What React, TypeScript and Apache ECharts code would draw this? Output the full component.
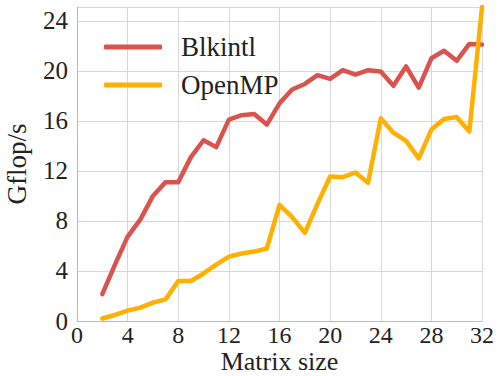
import React, { useEffect, useRef } from "react";
import * as echarts from "echarts";

const sizes = [2, 3, 4, 5, 6, 7, 8, 9, 10, 11, 12, 13, 14, 15, 16, 17, 18, 19, 20, 21, 22, 23, 24, 25, 26, 27, 28, 29, 30, 31, 32];
const blkintl = [2.15, 4.5, 6.75, 8.1, 10.0, 11.1, 11.1, 13.1, 14.45, 13.9, 16.1, 16.45, 16.55, 15.7, 17.4, 18.5, 18.95, 19.65, 19.35, 20.05, 19.7, 20.05, 19.95, 18.8, 20.35, 18.65, 21.0, 21.6, 20.8, 22.15, 22.1];
const openmp = [0.2, 0.48, 0.83, 1.07, 1.47, 1.73, 3.2, 3.2, 3.8, 4.5, 5.15, 5.4, 5.55, 5.8, 9.28, 8.3, 7.05, 9.36, 11.55, 11.5, 11.87, 11.05, 16.2, 15.05, 14.4, 13.0, 15.3, 16.15, 16.3, 15.15, 25.1];
const xTicks = { min: 0, max: 32, interval: 4 };
const yTicks = { min: 0, max: 25.1, interval: 4 };
const seriesNames = ["Blkintl", "OpenMP"];
const colors = ["#d9534f", "#ffb000"];

export default function App() {
  const ref = useRef<HTMLDivElement>(null);
  useEffect(() => {
    if (!ref.current) return;
    const chart = echarts.init(ref.current, undefined, { renderer: "svg" });
    const font = "'Liberation Serif', 'DejaVu Serif', serif";
    const mk = (d: number[]) => sizes.map((s, i) => [s, d[i]]);
    chart.setOption({
      animation: false,
      textStyle: { fontFamily: font },
      grid: { left: 77, right: 15, top: 7, bottom: 55, outerBoundsMode: "none", containLabel: false },
      legend: {
        orient: "vertical",
        left: 99,
        top: 27,
        itemWidth: 58,
        itemHeight: 5,
        itemGap: 8,
        data: seriesNames.map((n) => ({ name: n, icon: "roundRect" })),
        textStyle: { fontFamily: font, fontSize: 27, color: "#222", lineHeight: 30, padding: [0, 0, 0, 14] },
      },
      xAxis: {
        type: "value",
        min: xTicks.min,
        max: xTicks.max,
        interval: xTicks.interval,
        name: "Matrix size",
        nameLocation: "middle",
        nameGap: 29.5,
        nameMoveOverlap: false,
        nameTextStyle: { fontFamily: font, fontSize: 26, lineHeight: 22, color: "#222" },
        axisLine: { show: true, lineStyle: { color: "#bbb", width: 1 } },
        axisTick: { show: false },
        axisLabel: { fontFamily: font, fontSize: 24, lineHeight: 24, color: "#222", margin: 2 },
        splitLine: { show: true, lineStyle: { color: "#d8d8d8", width: 1 } },
      },
      yAxis: {
        type: "value",
        min: yTicks.min,
        max: yTicks.max,
        interval: yTicks.interval,
        name: "Gflop/s",
        nameLocation: "middle",
        nameGap: 47,
        nameMoveOverlap: false,
        nameTextStyle: { fontFamily: font, fontSize: 27, lineHeight: 27, color: "#222" },
        axisLine: { show: true, lineStyle: { color: "#bbb", width: 1 } },
        axisTick: { show: false },
        axisLabel: { fontFamily: font, fontSize: 25, color: "#222", margin: 9 },
        splitLine: { show: true, lineStyle: { color: "#d8d8d8", width: 1 } },
      },
      series: [
        {
          name: seriesNames[0],
          type: "line",
          data: mk(blkintl),
          symbol: "none",
          color: colors[0],
          lineStyle: { width: 4.5, color: colors[0], cap: "round", join: "round" },
        },
        {
          name: seriesNames[1],
          type: "line",
          data: mk(openmp),
          symbol: "none",
          color: colors[1],
          lineStyle: { width: 4.5, color: colors[1], cap: "round", join: "round" },
        },
      ],
    });
    return () => chart.dispose();
  }, []);
  return <div ref={ref} style={{ width: 497, height: 376, position: "absolute", left: 0, top: 0 }} />;
}
